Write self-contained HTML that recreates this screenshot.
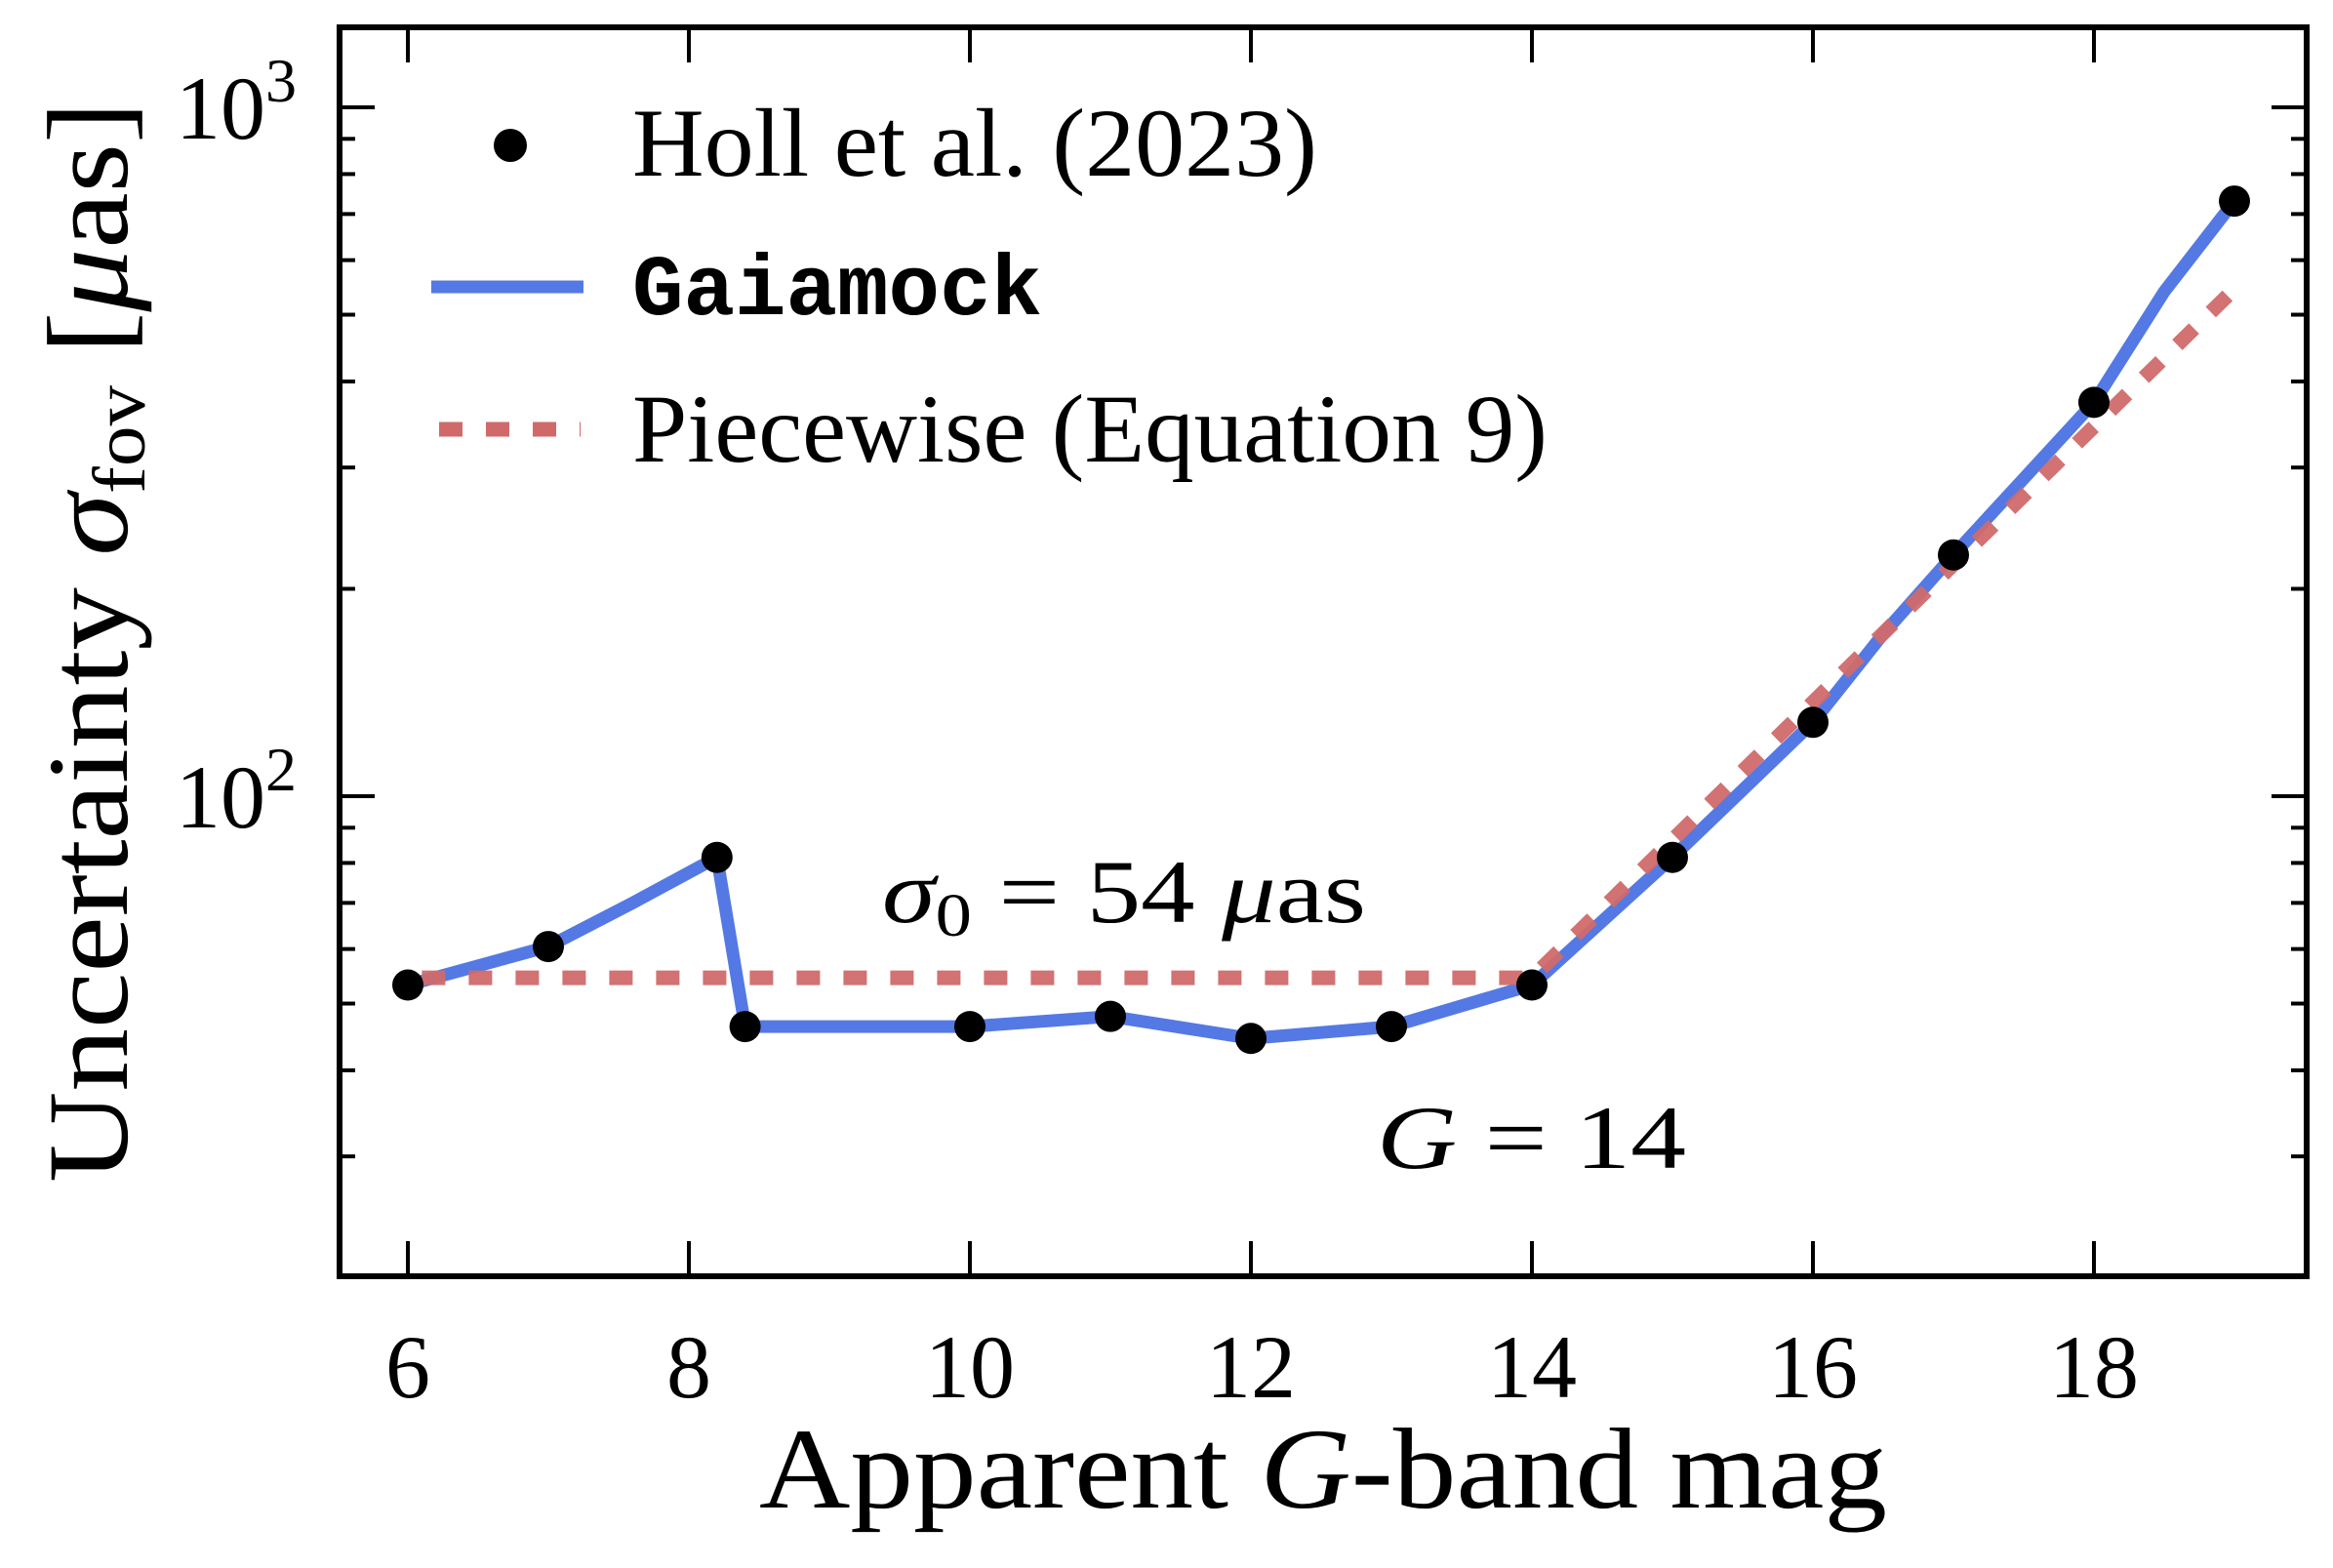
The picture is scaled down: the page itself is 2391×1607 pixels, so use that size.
<!DOCTYPE html>
<html><head><meta charset="utf-8"><style>
html,body{margin:0;padding:0;background:#fff}
svg{display:block}
text{font-family:"Liberation Serif",serif;fill:#000}
</style></head><body>
<svg id="chart" width="2391" height="1607" viewBox="0 0 2391 1607" xmlns="http://www.w3.org/2000/svg">
<g id="plot"></g>
<g id="axes"></g>
<g id="legend">
  <circle cx="523" cy="149" r="17" fill="#000"/>
  <text x="648" y="180" font-size="100" textLength="702" lengthAdjust="spacingAndGlyphs">Holl et al. (2023)</text>
  <line x1="442" y1="294" x2="598" y2="294" stroke="#5479e4" stroke-width="13"/>
  <text x="648" y="322" font-size="88" font-weight="bold" style="font-family:'Liberation Mono',monospace" textLength="420" lengthAdjust="spacingAndGlyphs">Gaiamock</text>
  <line x1="450" y1="440" x2="595" y2="440" stroke="#d06a6a" stroke-width="15" stroke-dasharray="24,24"/>
  <text x="648" y="473" font-size="100" textLength="938" lengthAdjust="spacingAndGlyphs">Piecewise (Equation 9)</text>
</g>
<text x="904" y="945" font-size="92" textLength="496" lengthAdjust="spacingAndGlyphs"><tspan font-style="italic">σ</tspan><tspan font-size="62" dy="14">0</tspan><tspan dy="-14"> = 54 </tspan><tspan font-style="italic">μ</tspan>as</text>
<text x="1411" y="1197" font-size="92" textLength="317" lengthAdjust="spacingAndGlyphs"><tspan font-style="italic">G</tspan> = 14</text>
<text x="778" y="1545" font-size="118" textLength="1156" lengthAdjust="spacingAndGlyphs">Apparent <tspan font-style="italic">G</tspan>-band mag</text>
<text transform="translate(130,1212) rotate(-90)" font-size="118" textLength="1108" lengthAdjust="spacingAndGlyphs">Uncertainty <tspan font-style="italic">σ</tspan><tspan font-size="76" dy="18">fov</tspan><tspan dy="-18"> [</tspan><tspan font-style="italic">μ</tspan>as]</text>
</svg>
<script>
const hollMag = [6, 7, 8.2, 8.4, 10, 11, 12, 13, 14, 15, 16, 17, 18, 19];
const hollSigma = [53.2, 60.5, 81.5, 46.3, 46.3, 47.9, 44.5, 46.3, 53.2, 81.5, 128, 224, 373, 731];
const gaiamockMag = [6, 7, 7.6, 8.2, 8.4, 10, 11, 12, 13, 14, 15, 16, 16.5, 17, 18, 18.5, 19];
const gaiamockSigma = [53.2, 60.5, 70, 81.5, 46.3, 46.3, 47.9, 44.5, 46.3, 53.2, 81.5, 128, 172, 224, 373, 540, 731];
const piecewiseMag = [6.1, 14, 19];
const piecewiseSigma = [54.5, 54.5, 545];
const xTicks = [6, 8, 10, 12, 14, 16, 18];
const yMajor = [100, 1000];
const yMajorLabels = ["2", "3"];

const L=348,R=2364,T=28,B=1308;
const X = m => 418 + (m-6)*144;
const Y = v => 816 - (Math.log10(v)-2)*706;
const NS="http://www.w3.org/2000/svg";
function mk(tag, attrs, parent){const e=document.createElementNS(NS,tag);for(const k in attrs)e.setAttribute(k,attrs[k]);if(parent)parent.appendChild(e);return e;}
const plot=document.getElementById('plot'), axes=document.getElementById('axes');

const defs=mk('defs',{},plot);
const cp=mk('clipPath',{id:'clip'},defs);
mk('rect',{x:L,y:T,width:R-L,height:B-T},cp);
const g=mk('g',{'clip-path':'url(#clip)'},plot);

let d='';
piecewiseMag.forEach((m,i)=>{d+=(i?'L':'M')+X(m)+' '+Y(piecewiseSigma[i]);});
let bd='';
gaiamockMag.forEach((m,i)=>{bd+=(i?'L':'M')+X(m)+' '+Y(gaiamockSigma[i]);});
const blue=mk('path',{d:bd,fill:'none',stroke:'#5479e4','stroke-width':13,'stroke-linejoin':'round'},g);


const red=mk('path',{d:d,fill:'none',stroke:'#d06a6a','stroke-width':15,'stroke-dasharray':'24,24','stroke-opacity':0.95},g);


hollMag.forEach((m,i)=>{
  const c=mk('circle',{cx:X(m),cy:Y(hollSigma[i]),r:16,fill:'#000'},g);
  
  
});

const fr=mk('rect',{x:L,y:T,width:R-L,height:B-T,fill:'none',stroke:'#000','stroke-width':6},axes);


xTicks.forEach(m=>{
  mk('line',{x1:X(m),x2:X(m),y1:B,y2:B-36,stroke:'#000','stroke-width':4},axes);
  mk('line',{x1:X(m),x2:X(m),y1:T,y2:T+36,stroke:'#000','stroke-width':4},axes);
  const t=mk('text',{x:X(m),y:1432,'font-size':92,'text-anchor':'middle'},axes);
  t.textContent=m;
  
  
});
for(let dec=10;dec<=1000;dec*=10){
  for(let k=1;k<10;k++){
    const v=dec*k; const y=Y(v);
    if(y<T||y>B) continue;
    const len=(k===1)?36:16;
    mk('line',{x1:L,x2:L+len,y1:y,y2:y,stroke:'#000','stroke-width':4},axes);
    mk('line',{x1:R,x2:R-len,y1:y,y2:y,stroke:'#000','stroke-width':4},axes);
  }
}
yMajor.forEach((v,i)=>{
  const t=mk('text',{x:180,y:Y(v)+32,'font-size':92},axes);
  
  
  const a=mk('tspan',{},t); a.textContent='10';
  const b=mk('tspan',{dy:-38,'font-size':64},t); b.textContent=yMajorLabels[i];
});
</script>
</body></html>
